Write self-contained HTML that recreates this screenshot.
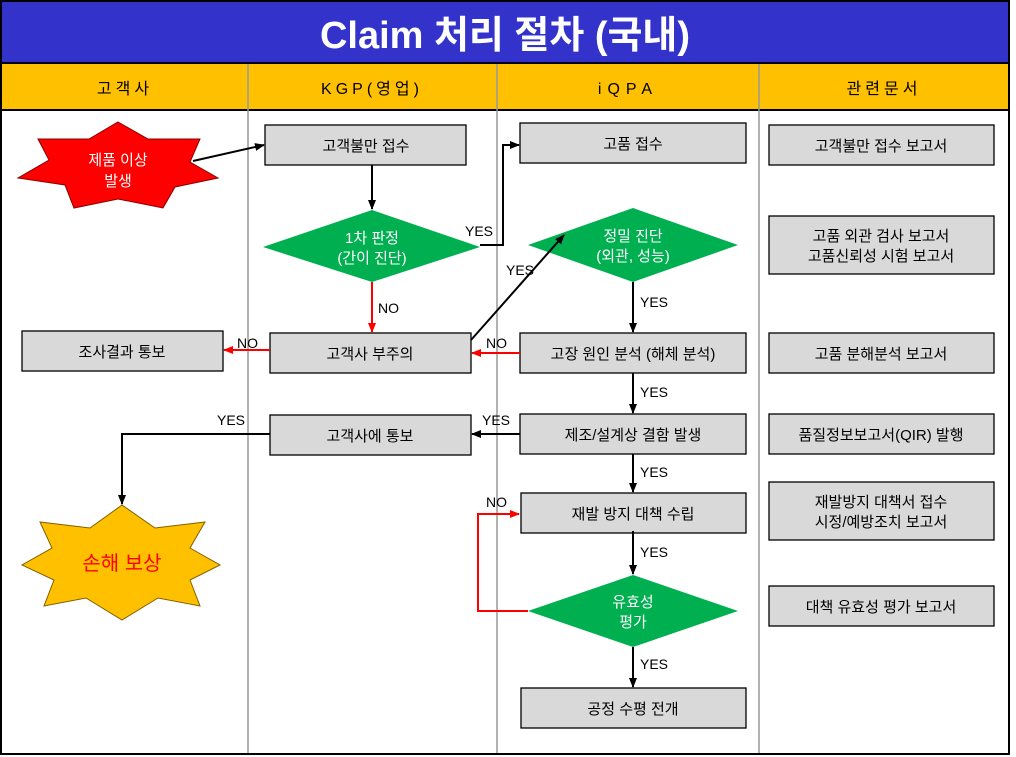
<!DOCTYPE html>
<html><head><meta charset="utf-8"><style>
html,body{margin:0;padding:0;background:#fff;}
svg{display:block;}
text{font-family:"Liberation Sans","Noto Sans CJK KR",sans-serif;}
</style></head><body>
<svg width="1016" height="757" viewBox="0 0 1016 757" xmlns="http://www.w3.org/2000/svg">
<defs>
<marker id="ab" markerWidth="10" markerHeight="10" refX="9" refY="5" orient="auto" markerUnits="userSpaceOnUse"><path d="M0,1 L10,5 L0,9 z" fill="#000"/></marker>
<marker id="ar" markerWidth="10" markerHeight="10" refX="9" refY="5" orient="auto" markerUnits="userSpaceOnUse"><path d="M0,1 L10,5 L0,9 z" fill="#f00"/></marker>
</defs>
<rect x="0" y="0" width="1016" height="757" fill="#fff"/>
<rect x="1" y="1" width="1008" height="753" fill="#fff" stroke="#000" stroke-width="2"/>
<rect x="2" y="2" width="1006" height="61" fill="#3333cc"/>
<text x="505" y="48" text-anchor="middle" fill="#fff" font-size="38" font-weight="bold" textLength="370" lengthAdjust="spacingAndGlyphs">Claim 처리 절차 (국내)</text>
<line x1="0" y1="63" x2="1010" y2="63" stroke="#000" stroke-width="2"/>
<rect x="2" y="64" width="1006" height="46" fill="#ffc000"/>
<line x1="0" y1="110" x2="1010" y2="110" stroke="#000" stroke-width="2"/>
<g stroke="#999" stroke-width="1.5">
<line x1="248" y1="64" x2="248" y2="753"/><line x1="497" y1="64" x2="497" y2="753"/><line x1="759" y1="64" x2="759" y2="753"/>
</g>
<g font-size="16" text-anchor="middle" fill="#000">
<text x="125" y="94" letter-spacing="4">고객사</text>
<text x="372" y="94" letter-spacing="4">KGP(영업)</text>
<text x="628" y="94" letter-spacing="6">iQPA</text>
<text x="884" y="94" letter-spacing="4">관련문서</text>
</g>
<!-- stars -->
<polygon points="118,122 148,139 200,139 190,162 218,178 175,187 163,208 118,199 74,208 65,185 18,178 49,160 38,139 89,139" fill="#f00" stroke="#800" stroke-width="1"/>
<text x="118" y="165" text-anchor="middle" fill="#fff" font-size="15">제품 이상</text>
<text x="118" y="186" text-anchor="middle" fill="#fff" font-size="15">발생</text>
<polygon points="122,505 155,528 205,522 190,548 220,565 190,580 200,606 158,598 122,620 86,598 44,606 54,580 22,565 52,548 40,522 90,528" fill="#ffc000" stroke="#806000" stroke-width="1"/>
<text x="122" y="570" text-anchor="middle" fill="#f00" font-size="20">손해 보상</text>
<!-- boxes -->
<g fill="#d9d9d9" stroke="#000" stroke-width="1.3">
<rect x="265" y="125" width="201" height="40"/>
<rect x="270" y="333" width="201" height="40"/>
<rect x="22" y="331" width="201" height="40"/>
<rect x="270" y="415" width="201" height="40"/>
<rect x="520" y="123" width="226" height="40"/>
<rect x="520" y="333" width="226" height="40"/>
<rect x="520" y="414" width="226" height="40"/>
<rect x="521" y="493" width="225" height="40"/>
<rect x="521" y="688" width="225" height="40"/>
<rect x="769" y="125" width="225" height="40"/>
<rect x="769" y="216" width="225" height="58"/>
<rect x="769" y="333" width="225" height="40"/>
<rect x="769" y="414" width="225" height="40"/>
<rect x="769" y="482" width="225" height="58"/>
<rect x="769" y="586" width="225" height="40"/>
</g>
<g fill="#00b050">
<polygon points="372,210 480,247 372,282 263,247"/>
<polygon points="633,208 738,245 633,282 528,245"/>
<polygon points="633,575 738,611 633,647 528,611"/>
</g>
<g font-size="15" text-anchor="middle" fill="#000">
<text x="366" y="151">고객불만 접수</text>
<text x="370" y="359">고객사 부주의</text>
<text x="122" y="357">조사결과 통보</text>
<text x="370" y="441">고객사에 통보</text>
<text x="633" y="149">고품 접수</text>
<text x="633" y="359">고장 원인 분석 (해체 분석)</text>
<text x="633" y="440">제조/설계상 결함 발생</text>
<text x="633" y="519">재발 방지 대책 수립</text>
<text x="633" y="714">공정 수평 전개</text>
<text x="881" y="151">고객불만  접수 보고서</text>
<text x="881" y="241">고품 외관 검사 보고서</text>
<text x="881" y="261">고품신뢰성 시험 보고서</text>
<text x="881" y="359">고품 분해분석 보고서</text>
<text x="881" y="440">품질정보보고서(QIR) 발행</text>
<text x="881" y="507">재발방지 대책서  접수</text>
<text x="881" y="527">시정/예방조치 보고서</text>
<text x="881" y="612">대책 유효성 평가 보고서</text>
</g>
<g font-size="15" text-anchor="middle" fill="#fff">
<text x="372" y="243">1차 판정</text>
<text x="372" y="263">(간이 진단)</text>
<text x="633" y="241">정밀 진단</text>
<text x="633" y="261">(외관, 성능)</text>
<text x="633" y="607">유효성</text>
<text x="633" y="627">평가</text>
</g>
<!-- connectors -->
<g stroke="#000" stroke-width="2" fill="none" marker-end="url(#ab)">
<line x1="193" y1="161" x2="264" y2="145"/>
<line x1="372" y1="165" x2="372" y2="209"/>
<polyline points="480,245 503,245 503,145 519,145"/>
<line x1="471" y1="340" x2="564" y2="235"/>
<line x1="633" y1="282" x2="633" y2="332"/>
<line x1="633" y1="373" x2="633" y2="413"/>
<line x1="520" y1="434" x2="472" y2="434"/>
<polyline points="270,434 122,434 122,504"/>
<line x1="633" y1="454" x2="633" y2="492"/>
<line x1="633" y1="531" x2="633" y2="574"/>
<line x1="633" y1="647" x2="633" y2="687"/>
</g>
<g stroke="#f00" stroke-width="2" fill="none" marker-end="url(#ar)">
<line x1="372" y1="282" x2="372" y2="332"/>
<line x1="270" y1="350" x2="224" y2="350"/>
<line x1="520" y1="353" x2="472" y2="353"/>
<polyline points="528,611 478,611 478,514 519,514"/>
</g>
<g font-size="14" fill="#000">
<text x="465" y="236">YES</text>
<text x="378" y="313">NO</text>
<text x="237" y="348">NO</text>
<text x="506" y="275">YES</text>
<text x="640" y="307">YES</text>
<text x="486" y="348">NO</text>
<text x="640" y="397">YES</text>
<text x="482" y="425">YES</text>
<text x="217" y="425">YES</text>
<text x="640" y="477">YES</text>
<text x="486" y="507">NO</text>
<text x="640" y="557">YES</text>
<text x="640" y="669">YES</text>
</g>
</svg>
</body></html>
